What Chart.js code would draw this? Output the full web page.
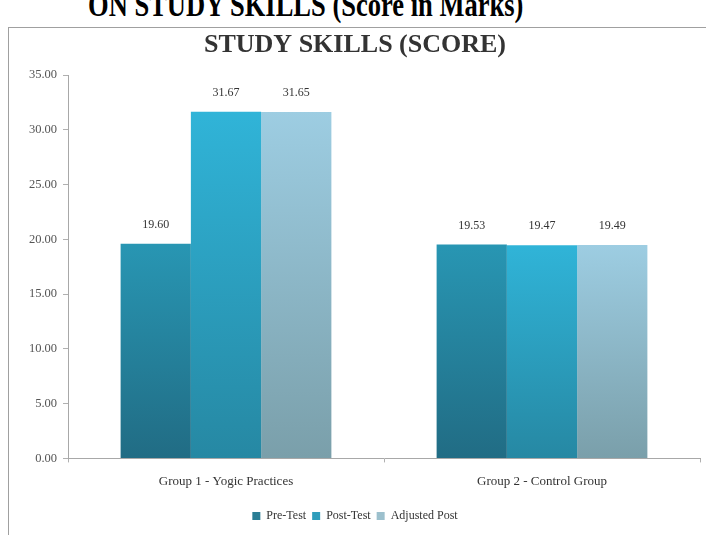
<!DOCTYPE html>
<html>
<head>
<meta charset="utf-8">
<script src="https://cdn.jsdelivr.net/npm/chart.js@4/dist/chart.umd.min.js"></script>
<style>
  html, body { margin: 0; padding: 0; background: #fff; }
  body { width: 706px; height: 535px; position: relative; overflow: hidden; }
  #toptext {
    position: absolute; left: 88px; top: -12px; white-space: nowrap;
    font-family: 'Liberation Serif', serif; font-weight: bold; font-size: 34px;
    line-height: 34px; color: #000; transform: scaleX(0.78); transform-origin: left top;
  }
  #frame {
    position: absolute; left: 8px; top: 27px; right: -2px; bottom: -2px;
    border-top: 1px solid #a0a0a0; border-left: 1px solid #a0a0a0;
  }
  #wrap { position: absolute; left: 0; top: 0; width: 706px; height: 535px; }
</style>
</head>
<body>
<div id="toptext">ON STUDY SKILLS (Score in Marks)</div>
<div id="frame"></div>
<div id="wrap"><canvas id="c" width="706" height="535"></canvas></div>
<script>
const chartTitle = "STUDY SKILLS (SCORE)";
const categories = ["Group 1 - Yogic Practices", "Group 2 - Control Group"];
const seriesNames = ["Pre-Test", "Post-Test", "Adjusted Post"];
const preTest = [19.60, 19.53];
const postTest = [31.67, 19.47];
const adjustedPost = [31.65, 19.49];
const yTicks = [0, 5, 10, 15, 20, 25, 30, 35];

const palette = [
  { top: '#2896b3', bottom: '#216c84', solid: '#2a7d94' },
  { top: '#30b4d8', bottom: '#2688a3', solid: '#2f9dbb' },
  { top: '#9dcde2', bottom: '#7a9faa', solid: '#9cc0cd' }
];

function gradFill(idx) {
  return function(ctx) {
    const p = palette[idx];
    if (ctx.type !== 'data') return p.solid;
    const chart = ctx.chart;
    if (!chart.chartArea || !chart.scales.y) return p.solid;
    const y = chart.scales.y;
    const top = y.getPixelForValue(ctx.raw);
    const base = y.getPixelForValue(0);
    if (!isFinite(top) || !isFinite(base) || base - top < 1) return p.solid;
    const g = chart.ctx.createLinearGradient(0, top, 0, base);
    g.addColorStop(0, p.top);
    g.addColorStop(1, p.bottom);
    return g;
  };
}

const valueLabels = {
  id: 'valueLabels',
  afterDatasetsDraw(chart) {
    const ctx = chart.ctx;
    ctx.save();
    ctx.font = '12px "Liberation Serif"';
    ctx.fillStyle = '#333';
    ctx.textAlign = 'center';
    ctx.textBaseline = 'middle';
    chart.data.datasets.forEach((ds, i) => {
      const meta = chart.getDatasetMeta(i);
      meta.data.forEach((el, j) => {
        ctx.fillText(Number(ds.data[j]).toFixed(2), el.x, el.y - 19);
      });
    });
    ctx.restore();
  }
};

const seriesData = [preTest, postTest, adjustedPost];

new Chart(document.getElementById('c'), {
  type: 'bar',
  data: {
    labels: categories,
    datasets: seriesNames.map((name, i) => ({
      label: name,
      data: seriesData[i],
      backgroundColor: gradFill(i),
      borderWidth: 0,
      categoryPercentage: 0.667,
      barPercentage: 1.0
    }))
  },
  options: {
    responsive: false,
    animation: false,
    devicePixelRatio: 1,
    layout: { padding: { left: 10, right: 6, top: 30, bottom: 3 } },
    plugins: {
      title: {
        display: true, text: chartTitle, color: '#333',
        font: { family: 'Liberation Serif', size: 26, weight: 'bold' },
        padding: { top: 0, bottom: 14 }
      },
      legend: {
        position: 'bottom',
        labels: {
          boxWidth: 8, boxHeight: 8, padding: 6, color: '#333',
          font: { family: 'Liberation Serif', size: 12 },
          generateLabels(chart) {
            const items = Chart.defaults.plugins.legend.labels.generateLabels(chart);
            items.forEach((it, i) => {
              it.fillStyle = palette[i].solid;
              it.strokeStyle = palette[i].solid;
              it.lineWidth = 0;
            });
            return items;
          }
        }
      },
      tooltip: { enabled: false }
    },
    scales: {
      y: {
        min: 0, max: 35,
        afterBuildTicks(scale) { scale.ticks = yTicks.map(v => ({ value: v })); },
        afterFit(scale) { scale.width = 58; },
        ticks: {
          callback: v => Number(v).toFixed(2),
          color: '#555', padding: 6,
          font: { family: 'Liberation Serif', size: 12.5 }
        },
        grid: { drawOnChartArea: false, tickLength: 5, color: '#b0b0b0' },
        border: { color: '#a8a8a8' }
      },
      x: {
        afterFit(scale) { scale.height += 4; },
        ticks: {
          color: '#333', padding: 11,
          font: { family: 'Liberation Serif', size: 13 }
        },
        grid: { drawOnChartArea: false, tickLength: 4, color: '#b0b0b0', offset: true },
        border: { color: '#a8a8a8' }
      }
    }
  },
  plugins: [valueLabels]
});
</script>
</body>
</html>
